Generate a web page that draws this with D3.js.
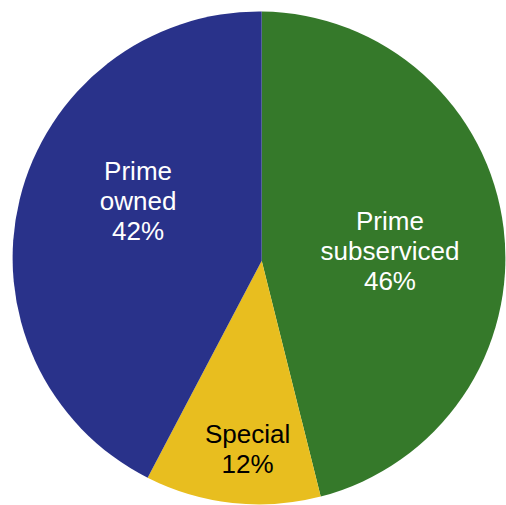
<!DOCTYPE html>
<html>
<head>
<meta charset="utf-8">
<script src="https://cdn.jsdelivr.net/npm/d3@7"></script>
<style>
  html, body { margin: 0; padding: 0; background: #fff; }
  svg { display: block; }
</style>
</head>
<body>
<svg id="chart" width="506" height="505"></svg>
<script>
// Data
const categories = ["Prime subserviced", "Special", "Prime owned"];
const labelNames = [["Prime", "subserviced"], ["Special"], ["Prime", "owned"]];
const values = [46.1, 11.6, 42.3];
const colors = ["#35792A", "#E8BE1F", "#29328A"];
const textColors = ["#ffffff", "#000000", "#ffffff"];

// Layout
const circleC = [259, 258], R = 246.4;   // outline circle
const vertex = [261.7, 260.7];           // where slice edges meet
const labelPolar = [
  { angleDeg: 90.9, r: 130.5 },
  { angleDeg: 183.4, r: 200.4 },
  { angleDeg: -68.4, r: 130.6 }
];
const lineHeight = 30;

const svg = d3.select("#chart");
const total = d3.sum(values);
const pie = d3.pie().sort(null).value(d => d)(values);

// Point where a ray from the vertex at pie angle a meets the outline circle,
// returned as an angle around the circle's centre.
function rimAngle(a) {
  const u = [Math.sin(a), -Math.cos(a)];
  const w = [vertex[0] - circleC[0], vertex[1] - circleC[1]];
  const b = w[0] * u[0] + w[1] * u[1];
  const c = w[0] * w[0] + w[1] * w[1] - R * R;
  const t = -b + Math.sqrt(b * b - c);
  const p = [vertex[0] + t * u[0], vertex[1] + t * u[1]];
  return Math.atan2(p[0] - circleC[0], -(p[1] - circleC[1]));
}

function slicePath(d) {
  const p = d3.path();
  let a0 = rimAngle(d.startAngle), a1 = rimAngle(d.endAngle);
  if (a1 <= a0) a1 += 2 * Math.PI;
  p.moveTo(vertex[0], vertex[1]);
  p.lineTo(circleC[0] + R * Math.sin(a0), circleC[1] - R * Math.cos(a0));
  p.arc(circleC[0], circleC[1], R, a0 - Math.PI / 2, a1 - Math.PI / 2, false);
  p.closePath();
  return p.toString();
}

svg.selectAll("path.slice")
  .data(pie)
  .join("path")
  .attr("class", "slice")
  .attr("d", slicePath)
  .attr("fill", (d, i) => colors[i]);

svg.selectAll("text.lbl")
  .data(pie)
  .join("text")
  .attr("class", "lbl")
  .attr("text-anchor", "middle")
  .attr("font-family", "Liberation Sans, Arial, sans-serif")
  .attr("font-size", 26)
  .attr("fill", (d, i) => textColors[i])
  .each(function(d, i) {
    const p = d3.pointRadial(labelPolar[i].angleDeg * Math.PI / 180, labelPolar[i].r);
    const lines = labelNames[i].concat([Math.round(d.value / total * 100) + "%"]);
    const n = lines.length;
    d3.select(this).selectAll("tspan")
      .data(lines)
      .join("tspan")
      .attr("x", circleC[0] + 0.5 + p[0])
      .attr("y", (t, k) => circleC[1] + p[1] + (k - (n - 1) / 2) * lineHeight)
      .text(t => t);
  });
</script>
</body>
</html>
